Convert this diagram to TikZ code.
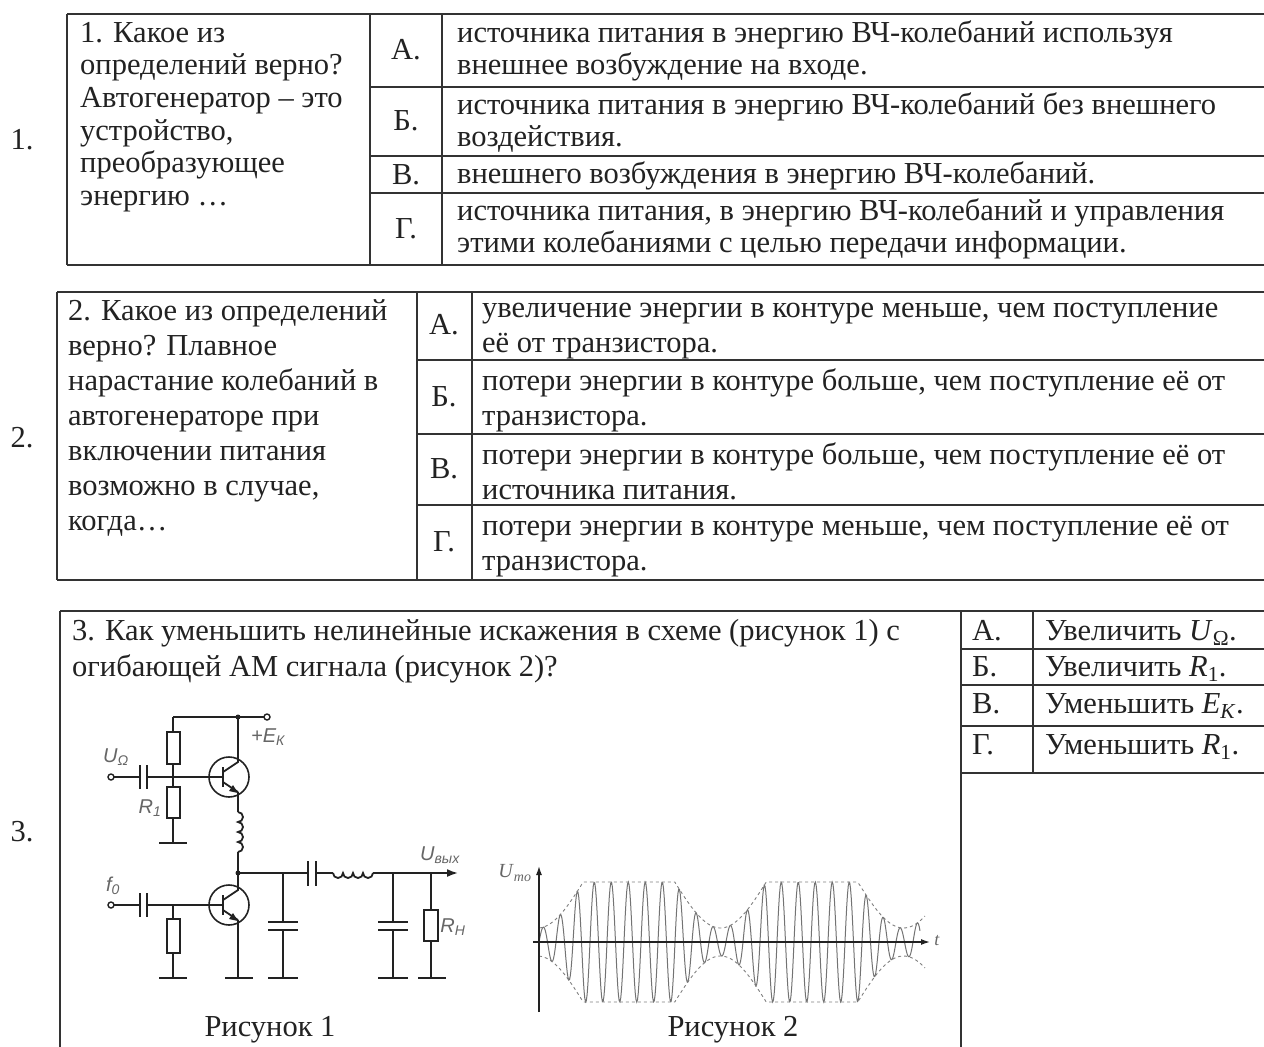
\documentclass[tikz,border=0pt]{standalone}
\usepackage{fontspec}
\setmainfont{Liberation Serif}
\newfontfamily\lsans{Liberation Sans}
\usetikzlibrary{arrows.meta}
\newcommand\tabfnt{\fontsize{30.5}{33}\selectfont}
\definecolor{ink}{HTML}{222222}
\definecolor{rule}{HTML}{333333}
\definecolor{lbl}{HTML}{666666}
\begin{document}
\begin{tikzpicture}[x=1pt,y=-1pt,
  tab/.style={draw=rule,line width=2pt},
  wire/.style={draw=ink,line width=1.8pt},
  cell/.style={anchor=north west,inner sep=0pt,align=left,text=ink},
  letter/.style={inner sep=0pt,text=ink,font=\tabfnt},
  clbl/.style={inner sep=0pt,text=lbl,font=\lsans\itshape\fontsize{20}{22}\selectfont},
  res/.style={draw=ink,line width=1.8pt,fill=white},
  declare function={env(\t)=min(60,60+46*cos((\t-629)/183*360));}]
\useasboundingbox (0,0) rectangle (1264,1047);
\fill[white] (0,0) rectangle (1264,1047);

% ---------- row numbers
\node[letter] (n1) at (22,140) {1.};
\node[letter] (n2) at (22,438) {2.};
\node[letter] (n3) at (22,832) {3.};

% ---------- table 1
\draw[tab] (67,14) -- (1264,14);
\draw[tab] (67,265) -- (1264,265);
\draw[tab] (67,14) -- (67,265);
\draw[tab] (370,14) -- (370,265);
\draw[tab] (442,14) -- (442,265);
\draw[tab] (370,87) -- (1264,87);
\draw[tab] (370,156) -- (1264,156);
\draw[tab] (370,193) -- (1264,193);
\node[cell,font=\fontsize{30.5}{32.6}\selectfont] (q1) at (80,19.2) {\strut 1. Какое из\\определений верно?\\Автогенератор – это\\устройство,\\преобразующее\\энергию …};
\node[letter] (l1a) at (406,50) {А.};
\node[letter] (l1b) at (406,121) {Б.};
\node[letter] (l1c) at (406,175) {В.};
\node[letter] (l1d) at (406,229) {Г.};
\node[cell,font=\fontsize{30.5}{32}\selectfont] (a1a) at (457,19.6) {\strut источника питания в энергию ВЧ-колебаний используя\\внешнее возбуждение на входе.};
\node[cell,font=\fontsize{30.5}{32}\selectfont] (a1b) at (457,91.6) {\strut источника питания в энергию ВЧ-колебаний без внешнего\\воздействия.};
\node[cell,font=\fontsize{30.5}{32}\selectfont] (a1c) at (457,160.6) {\strut внешнего возбуждения в энергию ВЧ-колебаний.};
\node[cell,font=\fontsize{30.5}{32}\selectfont] (a1d) at (457,197.6) {\strut источника питания, в энергию ВЧ-колебаний и управления\\этими колебаниями с целью передачи информации.};

% ---------- table 2
\draw[tab] (57,292) -- (1264,292);
\draw[tab] (57,580) -- (1264,580);
\draw[tab] (57,292) -- (57,580);
\draw[tab] (417,292) -- (417,580);
\draw[tab] (472,292) -- (472,580);
\draw[tab] (417,360) -- (1264,360);
\draw[tab] (417,434) -- (1264,434);
\draw[tab] (417,505) -- (1264,505);
\node[cell,font=\fontsize{30.5}{35}\selectfont] (q2) at (68,295.5) {\strut 2. Какое из определений\\верно? Плавное\\нарастание колебаний в\\автогенераторе при\\включении питания\\возможно в случае,\\когда…};
\node[letter] (l2a) at (444,325) {А.};
\node[letter] (l2b) at (444,397) {Б.};
\node[letter] (l2c) at (444,469) {В.};
\node[letter] (l2d) at (444,542) {Г.};
\node[cell,font=\fontsize{30.5}{35}\selectfont] (a2a) at (482,292.5) {\strut увеличение энергии в контуре меньше, чем поступление\\её от транзистора.};
\node[cell,font=\fontsize{30.5}{35}\selectfont] (a2b) at (482,365.5) {\strut потери энергии в контуре больше, чем поступление её от\\транзистора.};
\node[cell,font=\fontsize{30.5}{35}\selectfont] (a2c) at (482,439.5) {\strut потери энергии в контуре больше, чем поступление её от\\источника питания.};
\node[cell,font=\fontsize{30.5}{35}\selectfont] (a2d) at (482,510.5) {\strut потери энергии в контуре меньше, чем поступление её от\\транзистора.};

% ---------- table 3
\draw[tab] (60,611) -- (1264,611);
\draw[tab] (60,611) -- (60,1047);
\draw[tab] (961,611) -- (961,1047);
\draw[tab] (1033,611) -- (1033,773);
\draw[tab] (961,649) -- (1264,649);
\draw[tab] (961,685) -- (1264,685);
\draw[tab] (961,726) -- (1264,726);
\draw[tab] (961,773) -- (1264,773);
\node[cell,font=\fontsize{30.5}{36}\selectfont] (q3) at (72,614.8) {\strut 3. Как уменьшить нелинейные искажения в схеме (рисунок 1) с\\огибающей АМ сигнала (рисунок 2)?};
\node[letter,anchor=base west] (l3a) at (972,640) {А.};
\node[letter,anchor=base west] (l3b) at (972,676) {Б.};
\node[letter,anchor=base west] (l3c) at (972,713) {В.};
\node[letter,anchor=base west] (l3d) at (972,754) {Г.};
\node[letter,anchor=base west] (a3a) at (1045,640) {Увеличить \textit{U}\textsubscript{Ω}.};
\node[letter,anchor=base west] (a3b) at (1045,676) {Увеличить \textit{R}\textsubscript{1}.};
\node[letter,anchor=base west] (a3c) at (1045,713) {Уменьшить \textit{E}\textsubscript{\textit{К}}.};
\node[letter,anchor=base west] (a3d) at (1045,754) {Уменьшить \textit{R}\textsubscript{1}.};

% ---------- circuit (figure 1)
% supply rail
\draw[wire] (173,717) -- (264,717);
\draw[draw=ink,line width=1.4pt,fill=white] (267,717) circle (3);
\fill[ink] (238,717) circle (2.5);
\node[clbl] (ek) at (268,737) {+\textit{E}\textsubscript{К}};
% bias divider
\draw[wire] (173,717) -- (173,732);
\draw[res] (167,732) rectangle (180,764);
\draw[wire] (173,764) -- (173,787);
\draw[res] (167,787) rectangle (180,818);
\draw[wire] (173,818) -- (173,843);
\draw[wire] (159,843) -- (187,843);
\node[clbl] (r1) at (150,808) {\textit{R}\textsubscript{1}};
% input U
\draw[draw=ink,line width=1.4pt,fill=white] (111,777) circle (3);
\draw[wire] (114,777) -- (140,777);
\draw[wire] (140,765) -- (140,789);
\draw[wire] (147,765) -- (147,789);
\draw[wire] (147,777) -- (223,777);
\node[clbl] (uo) at (116,757) {\textit{U}\textsubscript{Ω}};
% transistor 1
\draw[draw=ink,line width=1.6pt] (229,777) circle (20);
\draw[wire] (223,767) -- (223,787);
\draw[wire] (223,772) -- (238,762) -- (238,717);
\draw[wire] (223,782) -- (238,792);
\fill[ink] (238,793) -- (229,791) -- (233,785) -- cycle;
\draw[wire] (238,792) -- (238,812);
% inductor 1
\draw[wire] (238,812) arc (-90:90:5) arc (-90:90:5) arc (-90:90:5) arc (-90:90:5);
\draw[wire] (238,852) -- (238,873);
\fill[ink] (238,873) circle (2.5);
% transistor 2
\draw[draw=ink,line width=1.6pt] (229,905) circle (20);
\draw[wire] (223,895) -- (223,915);
\draw[wire] (238,873) -- (238,890) -- (223,900);
\draw[wire] (223,910) -- (238,920);
\fill[ink] (238,921) -- (229,919) -- (233,913) -- cycle;
\draw[wire] (238,920) -- (238,978);
\draw[wire] (225,978) -- (253,978);
% input f0
\draw[draw=ink,line width=1.4pt,fill=white] (111,905) circle (3);
\draw[wire] (114,905) -- (140,905);
\draw[wire] (140,893) -- (140,917);
\draw[wire] (147,893) -- (147,917);
\draw[wire] (147,905) -- (223,905);
\node[clbl] (f0) at (113,886) {\textit{f}\textsubscript{0}};
\draw[wire] (173,905) -- (173,919);
\draw[res] (167,919) rectangle (180,953);
\draw[wire] (173,953) -- (173,978);
\draw[wire] (159,978) -- (187,978);
% output line
\draw[wire] (238,873) -- (308,873);
\draw[wire] (308,861) -- (308,886);
\draw[wire] (316,861) -- (316,886);
\draw[wire] (316,873) -- (333,873);
\draw[wire] (333,873) arc (180:0:5) arc (180:0:5) arc (180:0:5) arc (180:0:5);
\draw[wire,-{Latex[length=11pt,width=8pt]}] (373,873) -- (458,873);
\node[clbl] (uout) at (440,855) {\textit{U}\textsubscript{вых}};
% shunt C1
\draw[wire] (283,873) -- (283,922);
\draw[wire] (268,922) -- (298,922);
\draw[wire] (268,930) -- (298,930);
\draw[wire] (283,930) -- (283,978);
\draw[wire] (268,978) -- (298,978);
% shunt C2
\draw[wire] (393,873) -- (393,922);
\draw[wire] (378,922) -- (408,922);
\draw[wire] (378,930) -- (408,930);
\draw[wire] (393,930) -- (393,978);
\draw[wire] (378,978) -- (408,978);
% load R
\draw[wire] (431,873) -- (431,910);
\draw[res] (424,910) rectangle (438,941);
\draw[wire] (431,941) -- (431,978);
\draw[wire] (418,978) -- (446,978);
\node[clbl] (rh) at (453,927) {\textit{R}\textsubscript{Н}};
\node[letter] (fig1) at (270,1030) {Рисунок 1};

% ---------- waveform (figure 2)
\draw[gray!90!black,line width=1pt] plot[domain=539:920,samples=500] (\x,{942-env(\x)*sin((\x-539)/17*360)});
\draw[gray,dashed,line width=0.9pt] plot[domain=539:925,samples=200] (\x,{942-env(\x)});
\draw[gray,dashed,line width=0.9pt] plot[domain=539:925,samples=200] (\x,{942+env(\x)});
\draw[draw=ink,line width=1.4pt,-{Latex[length=9pt,width=6pt]}] (539,1012) -- (539,866);
\draw[draw=ink,line width=1.4pt,-{Latex[length=9pt,width=6pt]}] (533,942) -- (930,942);
\node[inner sep=0pt,text=lbl,font=\fontsize{20}{22}\selectfont] (umo) at (515,873) {\textit{U}\textsubscript{\textit{mo}}};
\node[inner sep=0pt,text=lbl,font=\fontsize{18}{20}\selectfont] (tt) at (937,941) {\textit{t}};
\node[letter] (fig2) at (733,1030) {Рисунок 2};
\end{tikzpicture}
\end{document}
